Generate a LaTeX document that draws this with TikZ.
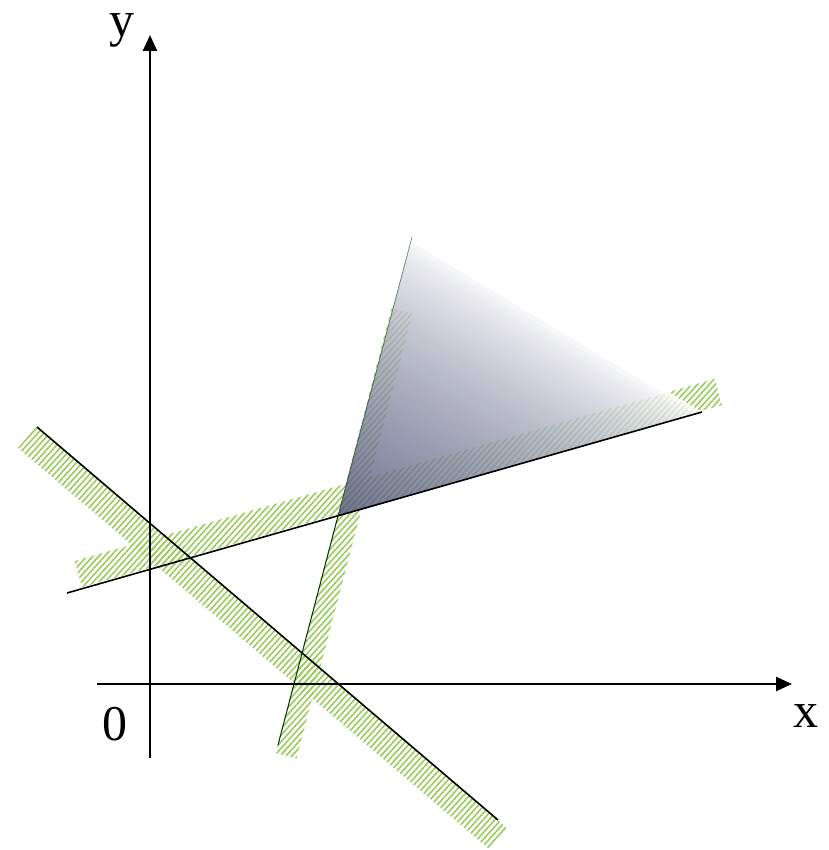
\documentclass[tikz,border=0pt]{standalone}
\usepackage{fontspec}
\setmainfont{Liberation Serif}
\usetikzlibrary{patterns.meta,arrows.meta,calc}
\definecolor{bandgreen}{RGB}{152,204,90}
\definecolor{tridark}{RGB}{78,82,120}
\begin{document}
\begin{tikzpicture}[x=1pt,y=-1pt,
  band/.style={pattern={Lines[angle=48,distance=4.4pt,line width=1.6pt]},pattern color=bandgreen},
  axisline/.style={line width=2.5pt,-{Triangle[length=16pt,width=14pt]}},
  bound/.style={line width=1.6pt,black},
  lbl/.style={font=\fontsize{50}{60}\selectfont,inner sep=0pt}]
\useasboundingbox (0,0) rectangle (828,850);
% coordinates
\coordinate (L1a) at (37,427);
\coordinate (L1b) at (498,820);
\coordinate (L2a) at (67,593);
\coordinate (L2b) at (702,412);
\coordinate (L3a) at (278,745);
\coordinate (T1) at (338,516);
\coordinate (T2) at (412,237);
\coordinate (T3) at (702,412);
\coordinate (Xs) at (97,684);
\coordinate (Xe) at (792,684);
\coordinate (Ys) at (150,758);
\coordinate (Ye) at (150,35);
% bands
\fill[band] (36,427) -- (507,828) -- (489,849) -- (18,448) -- cycle;
\fill[band] (82,587) -- (722,405) -- (714.6,379) -- (74.6,561) -- cycle;
\fill[band] (275.4,753) -- (391.5,308) -- (412.5,313.5) -- (296.5,758.5) -- cycle;
% axes
\draw[axisline] (Xs) -- (Xe);
\draw[axisline] (Ys) -- (Ye);
% triangle: graded from white (edge T2-T3) to dark (corner T1)
\begin{scope}[transparency group,opacity=0.8]
\foreach \i in {0,...,59}{
  \pgfmathsetmacro{\s}{1-\i/60}
  \pgfmathsetmacro{\p}{100*(1-\s+0.0001)^0.7}
  \fill[tridark!\p!white] (T1) -- ($(T1)!\s!(T2)$) -- ($(T1)!\s!(T3)$) -- cycle;
}
\end{scope}
% boundary lines
\draw[bound] (L1a) -- (L1b);
\draw[bound] (L2a) -- (L2b);
\draw[line width=1pt,black!60!green!50!black] (L3a) -- (T1);
\draw[line width=0.8pt,black!60!green!50!black,opacity=0.5] (T1) -- (T2);
% labels
\node[lbl,anchor=base] (ylab) at (122,37) {y};
\node[lbl,anchor=base] (xlab) at (806,727) {x};
\node[lbl,anchor=base] (olab) at (115,740) {0};
\end{tikzpicture}
\end{document}
